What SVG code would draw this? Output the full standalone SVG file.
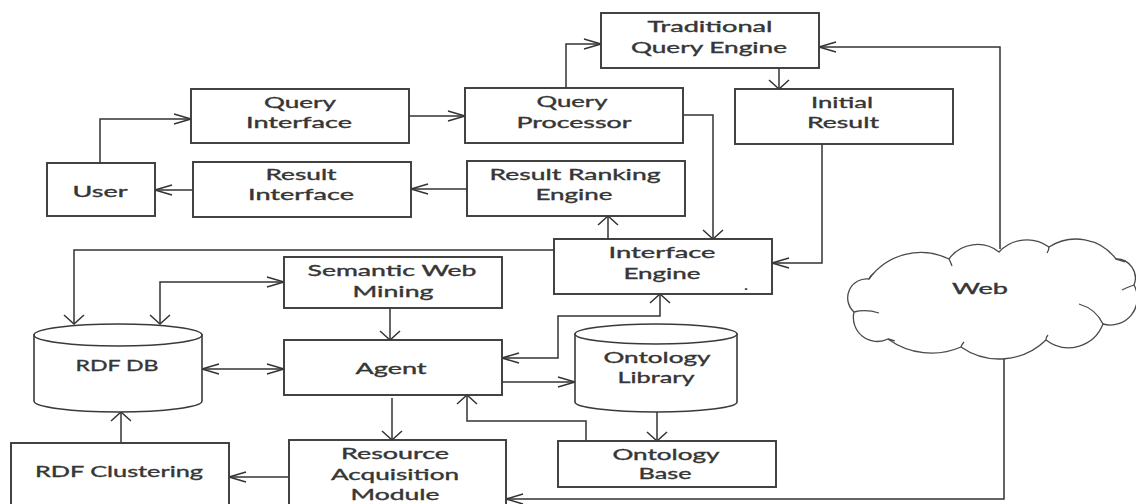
<svg xmlns="http://www.w3.org/2000/svg" width="1136" height="504" viewBox="0 0 1136 504">
  <style>
    .box { fill: #ffffff; stroke: #3a3a3a; stroke-width: 1.9; }
    .cyl { fill: #ffffff; stroke: #3a3a3a; stroke-width: 1.6; }
    .cloud { fill: #ffffff; stroke: #4a4a4a; stroke-width: 1.3; }
    .curl { fill: none; stroke: #4a4a4a; stroke-width: 1.3; }
    .wire { fill: none; stroke: #333333; stroke-width: 1.5; }
    .lbl { font-family: Lato, "Open Sans", "Liberation Sans", sans-serif; font-size: 15px; fill: #363636; stroke: #363636; stroke-width: 0.35; text-anchor: middle; }
  </style>
  <defs>
    <!-- open V heads: long/narrow for horizontal runs, short/wide for vertical runs -->
    <marker id="headH" viewBox="-19 -7 21 14" refX="0" refY="0" markerWidth="21" markerHeight="14" markerUnits="userSpaceOnUse" orient="auto-start-reverse" overflow="visible">
      <path d="M-17,-5 L0,0 L-17,5" fill="none" stroke="#333333" stroke-width="1.5"/>
    </marker>
    <marker id="headV" viewBox="-11 -12 13 24" refX="0" refY="0" markerWidth="13" markerHeight="24" markerUnits="userSpaceOnUse" orient="auto-start-reverse" overflow="visible">
      <path d="M-9,-10 L0,0 L-9,10" fill="none" stroke="#333333" stroke-width="1.5"/>
    </marker>
  </defs>

  <rect width="1136" height="504" fill="#ffffff"/>

  <g id="connectors">
    <!-- user / query side -->
    <path class="wire" d="M100,163 L100,119 L191,119" marker-end="url(#headH)"/>
    <path class="wire" d="M409,116 L465,116" marker-end="url(#headH)"/>
    <path class="wire" d="M566,88 L566,44 L601,44" marker-end="url(#headH)"/>
    <path class="wire" d="M779,68 L779,89" marker-end="url(#headV)"/>
    <path class="wire" d="M683,115 L713,115 L713,239" marker-end="url(#headV)"/>
    <path class="wire" d="M822,144 L822,263 L772,263" marker-end="url(#headH)"/>
    <path class="wire" d="M608,239 L608,216" marker-end="url(#headV)"/>
    <path class="wire" d="M467,189 L411,189" marker-end="url(#headH)"/>
    <path class="wire" d="M193,190 L155,190" marker-end="url(#headH)"/>
    <!-- web links -->
    <path class="wire" d="M1000,249 L1000,47 L819,47" marker-end="url(#headH)"/>
    <path class="wire" d="M1004,358 L1004,499 L506,499" marker-end="url(#headH)"/>
    <!-- interface engine to RDF store -->
    <path class="wire" d="M554,250 L74,250 L74,324" marker-end="url(#headV)"/>
    <path class="wire" d="M284,282 L160,282 L160,324" marker-start="url(#headH)" marker-end="url(#headV)"/>
    <path class="wire" d="M390,308 L390,340" marker-end="url(#headV)"/>
    <path class="wire" d="M202,369 L284,369" marker-start="url(#headH)" marker-end="url(#headH)"/>
    <path class="wire" d="M660,294 L660,316 L558,316 L558,358 L502,358" marker-start="url(#headV)" marker-end="url(#headH)"/>
    <path class="wire" d="M502,382 L575,382" marker-end="url(#headH)"/>
    <path class="wire" d="M657,412 L657,441" marker-end="url(#headV)"/>
    <path class="wire" d="M586,441 L586,421 L467,421 L467,395" marker-end="url(#headV)"/>
    <path class="wire" d="M392,398 L392,440" marker-end="url(#headV)"/>
    <path class="wire" d="M121,443 L121,412" marker-end="url(#headV)"/>
    <path class="wire" d="M289,477 L229,477" marker-end="url(#headH)"/>
  </g>

  <g id="traditional-query-engine">
    <rect class="box" x="601" y="13" width="218" height="55"/>
    <text class="lbl" x="710" y="32" textLength="125" lengthAdjust="spacingAndGlyphs">Traditional</text>
    <text class="lbl" x="709" y="53" textLength="156" lengthAdjust="spacingAndGlyphs">Query Engine</text>
  </g>

  <g id="query-interface">
    <rect class="box" x="191" y="89" width="218" height="54"/>
    <text class="lbl" x="300" y="108" textLength="72" lengthAdjust="spacingAndGlyphs">Query</text>
    <text class="lbl" x="299" y="128" textLength="106" lengthAdjust="spacingAndGlyphs">Interface</text>
  </g>

  <g id="query-processor">
    <rect class="box" x="465" y="88" width="218" height="55"/>
    <text class="lbl" x="572" y="107" textLength="71" lengthAdjust="spacingAndGlyphs">Query</text>
    <text class="lbl" x="574" y="128" textLength="115" lengthAdjust="spacingAndGlyphs">Processor</text>
  </g>

  <g id="initial-result">
    <rect class="box" x="735" y="89" width="218" height="55"/>
    <text class="lbl" x="842" y="108" textLength="62" lengthAdjust="spacingAndGlyphs">Initial</text>
    <text class="lbl" x="843" y="128" textLength="72" lengthAdjust="spacingAndGlyphs">Result</text>
  </g>

  <g id="user">
    <rect class="box" x="47" y="163" width="108" height="53"/>
    <text class="lbl" x="100" y="197" textLength="55" lengthAdjust="spacingAndGlyphs">User</text>
  </g>

  <g id="result-interface">
    <rect class="box" x="193" y="162" width="218" height="55"/>
    <text class="lbl" x="301" y="180" textLength="71" lengthAdjust="spacingAndGlyphs">Result</text>
    <text class="lbl" x="301" y="200" textLength="106" lengthAdjust="spacingAndGlyphs">Interface</text>
  </g>

  <g id="result-ranking-engine">
    <rect class="box" x="467" y="161" width="218" height="55"/>
    <text class="lbl" x="575" y="180" textLength="171" lengthAdjust="spacingAndGlyphs">Result Ranking</text>
    <text class="lbl" x="574" y="200" textLength="77" lengthAdjust="spacingAndGlyphs">Engine</text>
  </g>

  <g id="interface-engine">
    <rect class="box" x="554" y="239" width="218" height="55"/>
    <text class="lbl" x="662" y="258" textLength="107" lengthAdjust="spacingAndGlyphs">Interface</text>
    <text class="lbl" x="662" y="279" textLength="77" lengthAdjust="spacingAndGlyphs">Engine</text>
    <text class="lbl" x="746" y="290" font-size="12">.</text>
  </g>

  <g id="semantic-web-mining">
    <rect class="box" x="284" y="257" width="218" height="51"/>
    <text class="lbl" x="392" y="276" textLength="169" lengthAdjust="spacingAndGlyphs">Semantic Web</text>
    <text class="lbl" x="393" y="297" textLength="81" lengthAdjust="spacingAndGlyphs">Mining</text>
  </g>

  <g id="rdf-db">
    <path class="cyl" d="M34,335 L34,401 A84,11 0 0 0 202,401 L202,335 Z"/>
    <ellipse class="cyl" cx="118" cy="335" rx="84" ry="11"/>
    <text class="lbl" x="117" y="371" textLength="83" lengthAdjust="spacingAndGlyphs">RDF DB</text>
  </g>

  <g id="agent">
    <rect class="box" x="284" y="340" width="218" height="55"/>
    <text class="lbl" x="391" y="374" textLength="71" lengthAdjust="spacingAndGlyphs">Agent</text>
  </g>

  <g id="ontology-library">
    <path class="cyl" d="M575,334 L575,402 A81,10 0 0 0 737,402 L737,334 Z"/>
    <ellipse class="cyl" cx="656" cy="334" rx="81" ry="10"/>
    <text class="lbl" x="657" y="363" textLength="107" lengthAdjust="spacingAndGlyphs">Ontology</text>
    <text class="lbl" x="656" y="383" textLength="77" lengthAdjust="spacingAndGlyphs">Library</text>
  </g>

  <g id="ontology-base">
    <rect class="box" x="558" y="441" width="218" height="46"/>
    <text class="lbl" x="666" y="460" textLength="107" lengthAdjust="spacingAndGlyphs">Ontology</text>
    <text class="lbl" x="665" y="479" textLength="53" lengthAdjust="spacingAndGlyphs">Base</text>
  </g>

  <g id="rdf-clustering">
    <rect class="box" x="11" y="443" width="218" height="70"/>
    <text class="lbl" x="119" y="477" textLength="168" lengthAdjust="spacingAndGlyphs">RDF Clustering</text>
  </g>

  <g id="resource-acquisition-module">
    <rect class="box" x="289" y="440" width="217" height="73"/>
    <text class="lbl" x="395" y="459" textLength="108" lengthAdjust="spacingAndGlyphs">Resource</text>
    <text class="lbl" x="395" y="480" textLength="128" lengthAdjust="spacingAndGlyphs">Acquisition</text>
    <text class="lbl" x="395" y="500" textLength="89" lengthAdjust="spacingAndGlyphs">Module</text>
  </g>

  <g id="web">
    <path class="cloud" d="M869,279 A64,64 0 0 1 949,259 A35,35 0 0 1 999,252 A38,38 0 0 1 1049,247 A50,50 0 0 1 1116,259 A19,19 0 0 1 1134,285 A27,27 0 0 1 1103,324 A37,37 0 0 1 1046,340 A67,67 0 0 1 961,347 A74,74 0 0 1 888,339 A24,24 0 0 1 854,312 A19,19 0 0 1 869,279 Z"/>
    <!-- inner curls of the cloud outline -->
    <path class="curl" d="M869,279 Q870,276 874,273"/>
    <path class="curl" d="M949,259 Q951,263 952,266"/>
    <path class="curl" d="M1049,247 Q1049,250 1047,253"/>
    <path class="curl" d="M1116,259 Q1120,260 1125,262"/>
    <path class="curl" d="M1134,285 Q1128,287 1122,290"/>
    <path class="curl" d="M1103,324 Q1096,309 1079,304"/>
    <path class="curl" d="M1046,340 Q1046,337 1048,335"/>
    <path class="curl" d="M961,347 Q962,344 964,342"/>
    <path class="curl" d="M888,339 Q892,340 895,341"/>
    <path class="curl" d="M854,312 Q866,309 879,313"/>
    <text class="lbl" x="980" y="294" textLength="56" lengthAdjust="spacingAndGlyphs">Web</text>
  </g>
</svg>
